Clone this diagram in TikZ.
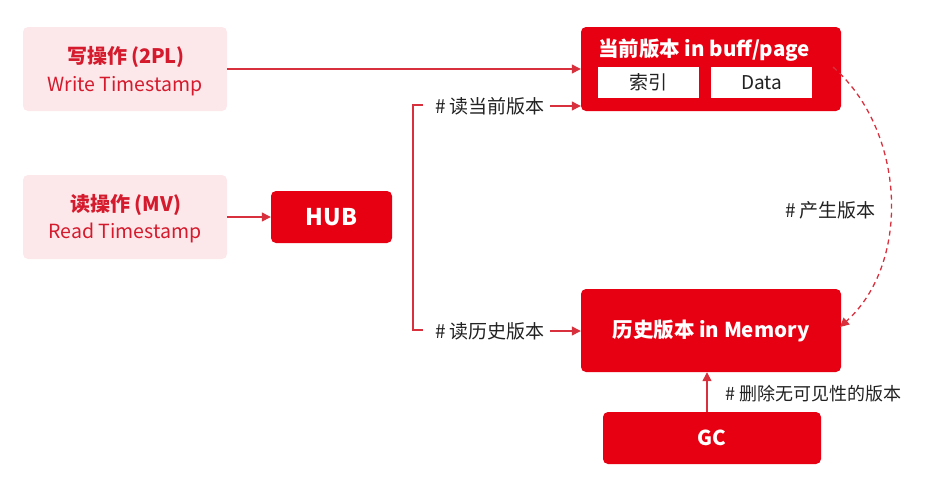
\documentclass[tikz,border=0pt]{standalone}
\usepackage{fontspec}
\setmainfont{Noto Sans CJK SC}
\usetikzlibrary{arrows.meta,calc}
\definecolor{hred}{HTML}{E60012}
\definecolor{lred}{HTML}{D9303E}
\definecolor{pinkbg}{HTML}{FCE8EA}
\definecolor{ptext}{HTML}{D41A2C}
\definecolor{lbl}{HTML}{222222}
\tikzset{
  opbox/.style={fill=pinkbg, rounded corners=5pt, minimum width=204pt, minimum height=84pt, align=center, text=ptext, inner sep=0pt},
  redbox/.style={fill=hred, rounded corners=5pt, text=white, font=\bfseries\fontsize{20.5}{24}\selectfont, inner sep=0pt},
  subbox/.style={fill=white, minimum width=101pt, minimum height=31pt, inner sep=0pt, text=lbl, font=\fontsize{19}{22}\selectfont},
  lab/.style={text=lbl, font=\fontsize{19}{22}\selectfont, inner sep=0pt},
  optitle/.style={text=ptext, font=\bfseries\fontsize{20}{22}\selectfont, inner sep=0pt},
  opsub/.style={text=ptext, font=\fontsize{19.5}{22}\selectfont, inner sep=0pt},
  conn/.style={draw=lred, line width=1.3pt, -{Triangle[length=9pt,width=9pt]}},
  plain/.style={draw=lred, line width=1.3pt},
}
\begin{document}
\begin{tikzpicture}[x=1pt,y=-1pt]
\useasboundingbox (0,0) rectangle (934,485);
\node[opbox] (write) at (125,69) {};
\node[optitle] (writet) at (126,57) {写操作\hspace{4pt}(2PL)};
\node[opsub] (writes) at (125,86) {Write Timestamp};
\node[opbox] (read) at (125,217) {};
\node[optitle] (readt) at (126,205) {读操作\hspace{4pt}(MV)};
\node[opsub] (reads) at (125,233) {Read Timestamp};
\node[redbox, minimum width=121pt, minimum height=52pt, font=\bfseries\fontsize{23}{26}\selectfont] (hub) at (331.5,217) {HUB};
\node[redbox, minimum width=260pt, minimum height=84pt] (cur) at (711,69) {};
\node[text=white, font=\bfseries\fontsize{20.5}{24}\selectfont, inner sep=0pt] (curt) at (704,50) {当前版本 in buff/page};
\node[subbox] (idx) at (648.5,82.5) {索引};
\node[subbox] (data) at (761.5,82.5) {Data};
\node[redbox, minimum width=260pt, minimum height=83pt] (hist) at (711,330.5) {历史版本 in Memory};
\node[redbox, minimum width=218pt, minimum height=52pt] (gc) at (712,438) {GC};
\node[lab, anchor=west] (lcur) at (435,106) {\# 读当前版本};
\node[lab, anchor=west] (lhist) at (435,331) {\# 读历史版本};
\node[lab, anchor=west] (lgen) at (785,210) {\# 产生版本};
\node[lab, anchor=west, font=\fontsize{18}{21}\selectfont] (lgc) at (725,394) {\# 删除无可见性的版本};
\coordinate (bt) at (413,105);
\coordinate (bb) at (413,330);
\coordinate (ds) at (833,67);
\draw[conn] (write.east) -- (cur.west);
\draw[conn] (read.east) -- (hub.west);
\draw[plain] ([xshift=-12pt]lcur.west |- bt) -- (bt) -- (bb) -- ([xshift=-12pt]lhist.west |- bb);
\draw[conn] ([xshift=5pt]lcur.east) -- (cur.west |- lcur.east);
\draw[conn] ([xshift=5pt]lhist.east) -- (hist.west |- lhist.east);
\draw[conn] (gc.north -| 707,0) -- (hist.south -| 707,0);
\draw[draw=lred, line width=1.3pt, dash pattern=on 5pt off 4pt, -{Triangle[length=9pt,width=9pt]}] (ds) .. controls (905,130) and (912,262) .. (840,327);
\end{tikzpicture}
\end{document}
